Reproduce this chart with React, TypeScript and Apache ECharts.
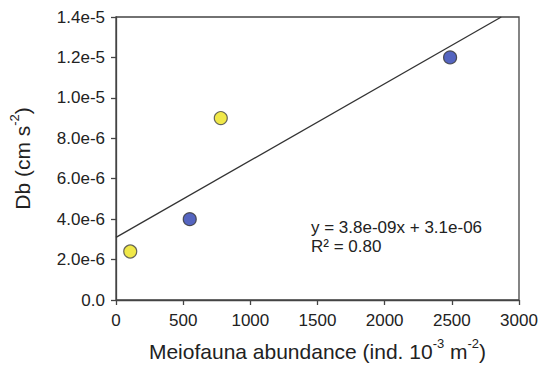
import React, { useEffect, useRef } from "react";
import * as echarts from "echarts";

const yellowPoints: [number, number][] = [
  [106, 2.4e-6],
  [780, 9.0e-6],
];
const bluePoints: [number, number][] = [
  [549, 4.0e-6],
  [2487, 1.2e-5],
];
const fitLine: [number, number][] = [
  [0, 3.1e-6],
  [2868, 1.4e-5],
];
const equationText = "y = 3.8e-09x + 3.1e-06";
const r2Text = "R\u00b2 = 0.80";

const FONT = "Liberation Sans, Arial, sans-serif";

export default function App() {
  const ref = useRef<HTMLDivElement>(null);
  useEffect(() => {
    if (!ref.current) return;
    const chart = echarts.init(ref.current, undefined, { renderer: "svg" });
    const axisColor = "#444";
    chart.setOption({
      animation: false,
      backgroundColor: "#fff",
      textStyle: { fontFamily: FONT },
      grid: {
        left: 115,
        right: 23,
        top: 17,
        bottom: 75,
        show: true,
        borderColor: axisColor,
        borderWidth: 1.3,
      },
      xAxis: {
        type: "value",
        min: 0,
        max: 3000,
        interval: 500,
        axisLine: { show: true, lineStyle: { color: axisColor, width: 1.3 } },
        axisTick: { show: true, length: 5, lineStyle: { color: axisColor, width: 1.3 } },
        splitLine: { show: false },
        axisLabel: {
          color: "#222",
          fontSize: 17,
          margin: 12,
          fontFamily: FONT,
          formatter: (v: number) => String(v),
        },
        name: "{n|Meiofauna abundance (ind. 10}{s|-3}{n| m}{s|-2}{n|)}",
        nameLocation: "middle",
        nameGap: 37,
        nameTextStyle: {
          rich: {
            n: { fontSize: 21, color: "#222", fontFamily: FONT, lineHeight: 25, verticalAlign: "bottom" },
            s: { fontSize: 13, color: "#222", fontFamily: FONT, lineHeight: 25, verticalAlign: "top" },
          },
        },
      },
      yAxis: {
        type: "value",
        min: 0,
        max: 1.4e-5,
        interval: 2e-6,
        axisLine: { show: true, lineStyle: { color: axisColor, width: 1.3 } },
        axisTick: { show: true, length: 5, lineStyle: { color: axisColor, width: 1.3 } },
        splitLine: { show: false },
        axisLabel: {
          color: "#222",
          fontSize: 17,
          margin: 11,
          fontFamily: FONT,
          formatter: (v: number) => (v === 0 ? "0.0" : v.toExponential(1)),
        },
        name: "{n|Db (cm s}{s|-2}{n|)}",
        nameLocation: "middle",
        nameGap: 83,
        nameRotate: 90,
        nameTextStyle: {
          rich: {
            n: { fontSize: 21, color: "#222", fontFamily: FONT, lineHeight: 25, verticalAlign: "bottom" },
            s: { fontSize: 13, color: "#222", fontFamily: FONT, lineHeight: 25, verticalAlign: "top" },
          },
        },
      },
      series: [
        {
          type: "line",
          data: fitLine,
          showSymbol: false,
          symbol: "none",
          lineStyle: { color: "#333", width: 1.3 },
          z: 1,
        },
        {
          type: "scatter",
          data: yellowPoints,
          symbolSize: 13,
          itemStyle: { color: "#ece21c", borderColor: "#444", borderWidth: 1.2 },
          z: 3,
        },
        {
          type: "scatter",
          data: bluePoints,
          symbolSize: 13,
          itemStyle: { color: "#2b3fb0", borderColor: "#333", borderWidth: 1.2 },
          z: 3,
        },
      ],
      graphic: [
        {
          type: "text",
          left: 311,
          top: 218,
          style: {
            text: equationText + "\n" + r2Text,
            fontSize: 17,
            lineHeight: 19,
            fill: "#222",
            fontFamily: FONT,
          },
        },
      ],
    });
    return () => chart.dispose();
  }, []);
  return <div ref={ref} style={{ width: 542, height: 375, position: "absolute", left: 0, top: 0 }} />;
}
